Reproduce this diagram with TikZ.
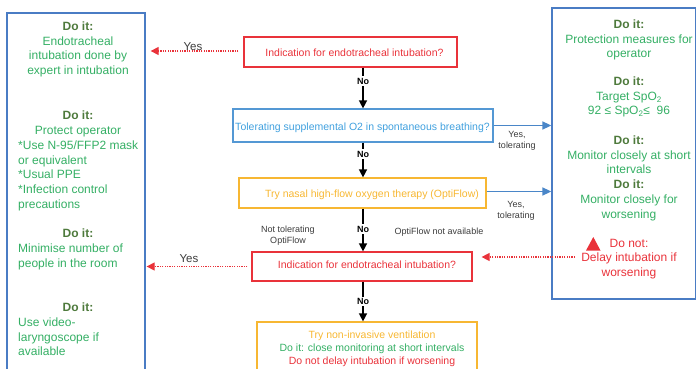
\documentclass[tikz,border=0pt]{standalone}
\usepackage{fontspec}
\setmainfont{Liberation Sans}
\usetikzlibrary{arrows.meta}

\definecolor{dogreen}{RGB}{78,122,60}
\definecolor{txtgreen}{RGB}{52,175,100}
\definecolor{alertred}{RGB}{233,50,58}
\definecolor{warnyellow}{RGB}{247,183,50}
\definecolor{skyblue}{RGB}{64,160,222}
\definecolor{skyborder}{RGB}{84,152,212}
\definecolor{sideblue}{RGB}{74,124,196}
\definecolor{arrowblue}{RGB}{74,134,200}
\definecolor{labelgray}{RGB}{60,60,60}

\newcommand\doitlabel{{\color{dogreen}\bfseries Do it:}}

\begin{document}
\begin{tikzpicture}[x=1pt,y=-1pt,
  sidebox/.style={draw=sideblue, line width=1.3pt, inner sep=0pt},
  flowbox/.style={line width=1.2pt, inner sep=0pt},
  sidetext/.style={text=txtgreen, font=\fontsize{12}{14.7}\selectfont, inner sep=0pt, align=center, anchor=north},
  sidelist/.style={sidetext, align=left, anchor=north west},
  flowtext/.style={font=\fontsize{10.5}{13}\selectfont, inner sep=0pt, anchor=base},
  nolabel/.style={font=\fontsize{9}{11}\selectfont\bfseries, fill=white, inner sep=1.5pt},
  edgelabel/.style={text=labelgray, font=\fontsize{9}{11}\selectfont, inner sep=0pt, align=center},
  yeslabel/.style={text=labelgray, font=\fontsize{11.5}{13}\selectfont, inner sep=0pt},
  blackarrow/.style={-{Triangle[length=8pt,width=8pt]}, line width=1.4pt, black},
  bluearrow/.style={-{Triangle[length=9pt,width=8pt]}, line width=1.5pt, arrowblue},
  redarrow/.style={-{Triangle[length=8pt,width=8pt]}, line width=1.2pt, alertred, dash pattern=on 1.2pt off 1.2pt}]

\useasboundingbox (0,0) rectangle (696,369);
\clip (0,0) rectangle (696,369);

% side panels
\node[sidebox, minimum width=138pt, minimum height=372pt] (leftbox) at (76,199) {};
\node[sidebox, minimum width=143.5pt, minimum height=291pt] (rightbox) at (623.75,153.5) {};

% decision flow boxes
\node[flowbox, draw=alertred, minimum width=213pt, minimum height=30pt] (red1) at (350.5,52) {};
\node[flowbox, draw=skyborder, minimum width=260pt, minimum height=33pt] (blue) at (363,125.5) {};
\node[flowbox, draw=warnyellow, minimum width=247pt, minimum height=30pt] (yellow1) at (362.5,193) {};
\node[flowbox, draw=alertred, minimum width=220pt, minimum height=29pt] (red2) at (362,266.5) {};
\node[flowbox, draw=warnyellow, minimum width=220pt, minimum height=68pt] (yellow2) at (367,356) {};

% flow box texts
\node[flowtext, text=alertred] (red1txt) at (354.5,57) {Indication for endotracheal intubation?};
\node[flowtext, text=skyblue] (bluetxt) at (362.5,130) {Tolerating supplemental O2 in spontaneous breathing?};
\node[flowtext, text=warnyellow] (yellow1txt) at (372,197.5) {Try nasal high-flow oxygen therapy (OptiFlow)};
\node[flowtext, text=alertred] (red2txt) at (367,268) {Indication for endotracheal intubation?};
\node[flowtext, anchor=north, align=center] (yellow2txt) at (372,330.7)
  {\color{warnyellow}Try non-invasive ventilation\\
   \color{txtgreen}Do it: close monitoring at short intervals\\
   \color{alertred}Do not delay intubation if worsening};

% main vertical path
\draw[blackarrow] (blue.north |- red1.south) -- (blue.north);
\draw[blackarrow] (blue.south) -- (blue.south |- yellow1.north);
\draw[blackarrow] (blue.south |- yellow1.south) -- (blue.south |- red2.north);
\draw[blackarrow] (blue.south |- red2.south) -- (blue.south |- yellow2.north);
\node[nolabel] (no1) at (363,81) {No};
\node[nolabel] (no2) at (363,154) {No};
\node[nolabel] (no3) at (363,229) {No};
\node[nolabel] (no4) at (363,301.5) {No};

% branches to the right panel
\draw[bluearrow] (blue.east) -- (blue.east -| rightbox.west);
\draw[bluearrow] ([yshift=1.5pt]yellow1.east) -- ([yshift=1.5pt]yellow1.east -| rightbox.west);
\node[edgelabel, anchor=north] (tol1) at (517,131.5) {Yes,\\tolerating};
\node[edgelabel, anchor=north] (tol2) at (516,201.5) {Yes,\\tolerating};
\node[edgelabel, anchor=north] (nottol) at (288,225.5) {Not tolerating\\OptiFlow};
\node[edgelabel, anchor=base] (notavail) at (439,234) {OptiFlow not available};

% branches to the left panel
\draw[redarrow, shorten <=5pt, shorten >=5pt] ([yshift=1pt]red1.west) -- ([yshift=1pt]red1.west -| leftbox.east);
\draw[redarrow, shorten <=4pt, shorten >=1pt] (red2.west) -- (red2.west -| leftbox.east);
\node[yeslabel] (yes1) at (193,47) {Yes};
\node[yeslabel] (yes2) at (189,259) {Yes};

% warning back to the decision
\coordinate (dnstart) at (575,257);
\draw[redarrow, shorten >=9pt] (dnstart) -- (dnstart -| red2.east);
\fill[alertred] (586,250.5) -- (600.5,250.5) -- (593.3,237) -- cycle;

% left panel texts
\node[sidetext] (l1) at (78,21.7) {\doitlabel\\Endotracheal\\intubation done by\\expert in intubation};
\node[sidetext] (l2) at (78,110.7) {\doitlabel\\Protect operator};
\node[sidelist] (l2list) at (18,140.7) {*Use N-95/FFP2 mask\\or equivalent\\*Usual PPE\\*Infection control\\precautions};
\node[sidetext] (l3) at (78,228.7) {\doitlabel};
\node[sidelist] (l3list) at (18,243.7) {Minimise number of\\people in the room};
\node[sidetext] (l4) at (78,302.7) {\doitlabel};
\node[sidelist] (l4list) at (18,317.7) {Use video-\\laryngoscope if\\available};

% right panel texts
\node[sidetext] (r1) at (629,19.7) {\doitlabel\\Protection measures for\\operator};
\node[sidetext] (r2) at (629,76.7) {\doitlabel\\Target SpO\textsubscript{2}\\92 ≤ SpO\textsubscript{2}≤ \ 96};
\node[sidetext] (r3) at (629,135.7) {\doitlabel\\Monitor closely at short\\intervals\\\doitlabel\\Monitor closely for\\worsening};
\node[sidetext, text=alertred] (r4) at (629,238.7) {Do not:\\Delay intubation if\\worsening};

\end{tikzpicture}
\end{document}
